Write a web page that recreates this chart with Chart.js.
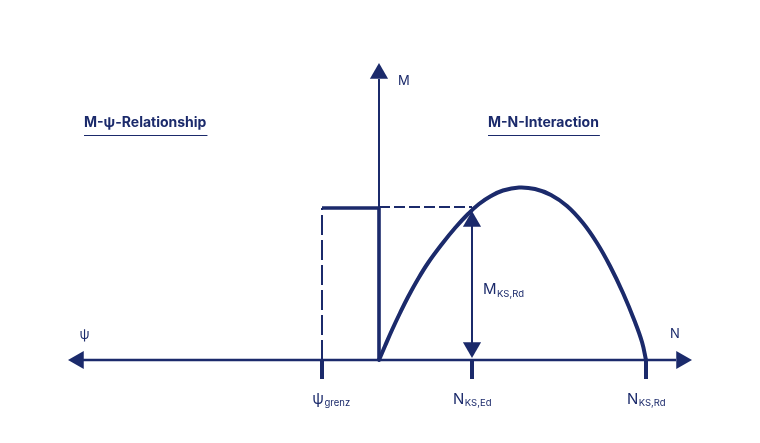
<!DOCTYPE html>
<html>
<head>
<meta charset="utf-8">
<script src="https://cdn.jsdelivr.net/npm/chart.js@4.4.1/dist/chart.umd.min.js"></script>
<style>
  html, body { margin: 0; padding: 0; background: #ffffff; }
  #grafico { display: block; }
</style>
</head>
<body>
<canvas id="grafico" width="760" height="443"></canvas>
<script>
// unidades do desenho: origem no cruzamento dos eixos (N para a direita, M para cima)
const curvaN = [0, 6, 13, 21, 29, 39, 49, 63, 76, 89, 100, 112, 124, 140, 156, 172, 188, 204, 218, 231, 244, 256, 263, 267];
const curvaM = [0, 14, 30, 47, 63, 81, 97, 116, 132, 146, 156, 164, 169.5, 172.5, 171, 165, 154, 137, 117, 94, 67, 38, 18, 0];

// bloco M-psi (lado esquerdo tracejado)
const blocoN = [-57, 0, 0];
const blocoM = [152, 152, 0];
const psiGrenz = -57;
const nKsEd = 93;
const nKsRd = 267;
const mKsRd = 152;

// eixos e setas
const eixoN = [-296, 297];
const eixoM = [0, 281];
const setaN = [-300.5, 302.5, 0, 93, 93];
const setaM = [0, 0, 286.5, 138.5, 12.5];
const setaRot = [-90, 90, 0, 0, 180];
const ticksN = [psiGrenz, nKsEd, nKsRd];
const tickFim = -19;

const rotulosBase = [
  { texto: "ψ", sub: "grenz", n: -48, m: -43.5 },
  { texto: "N", sub: "KS,Ed", n: 93, m: -43.5 },
  { texto: "N", sub: "KS,Rd", n: 267, m: -43.5 },
];
const titulos = [
  { texto: "M-ψ-Relationship", n: -295, m: 233 },
  { texto: "M-N-Interaction", n: 109, m: 233 },
];

const azul = "#1b2a6b";
const fonte = "Inter, 'Noto Sans', sans-serif";

function pontos(xs, ys) {
  const lista = [];
  for (let i = 0; i < xs.length; i++) {
    lista.push({ x: xs[i], y: ys[i] });
  }
  return lista;
}

function linha(dados, largura, tracejado) {
  return {
    data: dados,
    showLine: true,
    borderColor: azul,
    borderWidth: largura,
    borderDash: tracejado || [],
    pointRadius: 0,
    fill: false,
    clip: false,
    borderCapStyle: "butt",
    borderJoinStyle: "miter",
  };
}

function textoComSub(ctx, principal, sub, x, y, tam, tamSub, alinhar) {
  ctx.font = `400 ${tam}px ${fonte}`;
  const w1 = ctx.measureText(principal).width;
  ctx.font = `400 ${tamSub}px ${fonte}`;
  const w2 = ctx.measureText(sub).width;
  let x0 = x;
  if (alinhar === "center") x0 = x - (w1 + w2) / 2;
  ctx.textAlign = "left";
  ctx.textBaseline = "alphabetic";
  ctx.font = `400 ${tam}px ${fonte}`;
  ctx.fillText(principal, x0, y);
  ctx.font = `400 ${tamSub}px ${fonte}`;
  ctx.fillText(sub, x0 + w1 + 0.5, y + 2.5);
}

const rotulosPlugin = {
  id: "rotulos",
  afterDatasetsDraw(chart) {
    const ctx = chart.ctx;
    const sx = chart.scales.x;
    const sy = chart.scales.y;
    ctx.save();
    ctx.fillStyle = azul;
    ctx.strokeStyle = azul;

    for (const t of titulos) {
      const px = sx.getPixelForValue(t.n);
      const py = sy.getPixelForValue(t.m);
      ctx.font = `700 14px ${fonte}`;
      ctx.textAlign = "left";
      ctx.textBaseline = "alphabetic";
      ctx.fillText(t.texto, px, py);
      const w = ctx.measureText(t.texto).width;
      ctx.lineWidth = 1.2;
      ctx.beginPath();
      ctx.moveTo(px, py + 8.5);
      ctx.lineTo(px + w + 1, py + 8.5);
      ctx.stroke();
    }

    for (const r of rotulosBase) {
      textoComSub(ctx, r.texto, r.sub, sx.getPixelForValue(r.n), sy.getPixelForValue(r.m), 15, 9.5, "center");
    }
    textoComSub(ctx, "M", "KS,Rd", sx.getPixelForValue(104), sy.getPixelForValue(66), 15, 9.5, "left");

    ctx.font = `400 13px ${fonte}`;
    ctx.textAlign = "left";
    ctx.textBaseline = "alphabetic";
    ctx.fillText("M", sx.getPixelForValue(19), sy.getPixelForValue(275));
    ctx.fillText("N", sx.getPixelForValue(291), sy.getPixelForValue(22));
    ctx.textAlign = "center";
    ctx.fillText("ψ", sx.getPixelForValue(-294.5), sy.getPixelForValue(21));
    ctx.restore();
  },
};

const datasets = [
  linha(pontos(eixoN, [0, 0]), 2.6),
  linha(pontos([0, 0], eixoM), 2),
  linha(pontos([psiGrenz, psiGrenz], [0, mKsRd]), 2, [20, 5]),
  linha(pontos([0, nKsEd], [mKsRd + 1, mKsRd + 1]), 2, [11, 4]),
  linha(pontos(blocoN, blocoM), 3.6),
  linha(pontos([nKsEd, nKsEd], [setaM[4], setaM[3]]), 2),
];

for (const t of ticksN) {
  datasets.push(linha(pontos([t, t], [0, tickFim]), 4));
}

const curva = linha(pontos(curvaN, curvaM), 4);
curva.tension = 0.4;
curva.borderCapStyle = "round";
datasets.push(curva);

datasets.push({
  data: pontos(setaN, setaM),
  showLine: false,
  clip: false,
  pointStyle: "triangle",
  pointRadius: 10.5,
  pointRotation: setaRot,
  pointBackgroundColor: azul,
  pointBorderColor: azul,
  pointBorderWidth: 0,
});

new Chart(document.getElementById("grafico"), {
  type: "scatter",
  data: { datasets: datasets },
  options: {
    responsive: false,
    animation: false,
    events: [],
    layout: { padding: 0, autoPadding: false },
    scales: {
      x: { type: "linear", min: -379, max: 381, display: false },
      y: { type: "linear", min: -83, max: 360, display: false },
    },
    plugins: {
      legend: { display: false },
      tooltip: { enabled: false },
    },
  },
  plugins: [rotulosPlugin],
});
</script>
</body>
</html>
